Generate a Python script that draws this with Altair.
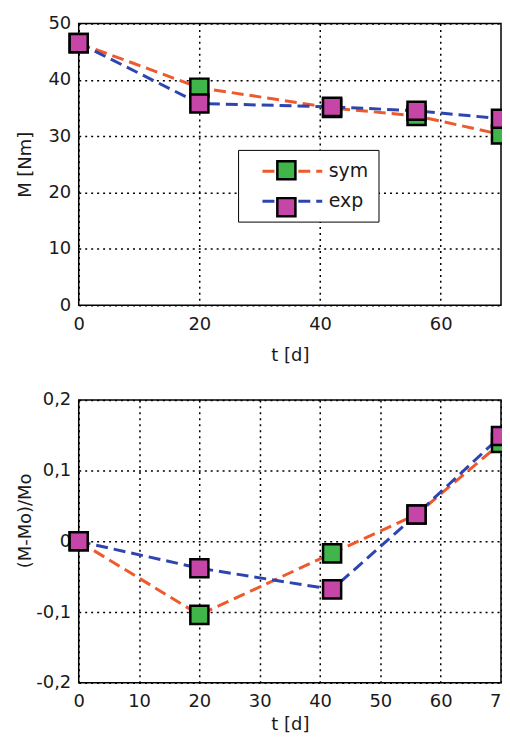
import altair as alt
import pandas as pd

t_days = [0, 20, 42, 56, 70]
series_names = ["sym", "exp"]
marker_names = ["m_sym", "m_exp"]
m_sym = [46.5, 38.6, 35.0, 33.6, 30.3]
m_exp = [46.5, 35.8, 35.2, 34.5, 33.1]
r_sym = [0.0, -0.104, -0.017, 0.038, 0.139]
r_exp = [0.0, -0.038, -0.068, 0.038, 0.149]

top_x_ticks = [0, 20, 40, 60]
bottom_x_ticks = [0, 10, 20, 30, 40, 50, 60, 70]
top_y_ticks = [0, 10, 20, 30, 40, 50]
bottom_y_ticks = [-0.2, -0.1, 0, 0.1, 0.2]

FONT = "DejaVu Sans"
TXT = "#1a1a1a"
line_colors = ["#ee5a2c", "#2e45b0"]
marker_colors = ["#3fb54a", "#c646a8"]


def long_df(sym, exp):
    rows = []
    for name, mname, vals in (("sym", "m_sym", sym), ("exp", "m_exp", exp)):
        for t, v in zip(t_days, vals):
            rows.append({"t": t, "v": v, "series": name, "marker": mname})
    return pd.DataFrame(rows)


def panel(df, ydomain, yvalues, ytitle, xvalues, lx, ly, height,
          label_expr=None, title_y=None, x_title_pad=13):
    xaxis = alt.Axis(values=xvalues, title="t [d]", labelFlush=False,
                     labelPadding=10, titlePadding=x_title_pad)
    yargs = dict(values=yvalues, title=ytitle, labelPadding=8, titleX=-44)
    if label_expr:
        yargs["labelExpr"] = label_expr
    if title_y is not None:
        yargs["titleY"] = title_y
    yaxis = alt.Axis(**yargs)
    x = alt.X("t:Q", scale=alt.Scale(domain=[0, 70], nice=False), axis=xaxis)
    y = alt.Y("v:Q", scale=alt.Scale(domain=ydomain, nice=False), axis=yaxis)

    lines = alt.Chart(df).mark_line(strokeWidth=3, strokeDash=[12, 6]).encode(
        x=x, y=y,
        color=alt.Color(
            "series:N",
            scale=alt.Scale(domain=series_names, range=line_colors),
            legend=alt.Legend(
                orient="none", legendX=lx, legendY=ly, title=None,
                symbolType="M0.3,0H6.3", symbolSize=400, symbolStrokeWidth=3,
                symbolDash=[12, 6], labelOffset=58,
                labelFontSize=19, labelFont=FONT, labelColor=TXT,
                padding=10, rowPadding=8, strokeColor="black",
                fillColor="white",
            ),
        ),
    )
    points = alt.Chart(df).mark_point(
        shape="square", filled=True, size=330, stroke="black",
        strokeWidth=2.5, opacity=1,
    ).encode(
        x=x, y=y,
        fill=alt.Fill(
            "marker:N",
            scale=alt.Scale(domain=marker_names, range=marker_colors),
            legend=alt.Legend(
                orient="none", legendX=lx, legendY=ly, title=None,
                symbolType="square", symbolSize=330, symbolStrokeColor="black",
                symbolStrokeWidth=2.5, symbolOffset=28, labelOpacity=0,
                labelFontSize=19, labelFont=FONT, padding=10, rowPadding=8,
            ),
        ),
    )
    return alt.layer(lines, points).properties(width=424, height=height)


top = panel(long_df(m_sym, m_exp), [0, 50], top_y_ticks, "M [Nm]",
            top_x_ticks, 160, 127, 283)
bottom = panel(
    long_df(r_sym, r_exp), [-0.2, 0.2], bottom_y_ticks, "(M-Mo)/Mo",
    bottom_x_ticks, 183, 30, 284,
    label_expr="datum.value == 0 ? '0' : (datum.value < 0 ? '-' : '') + replace(format(abs(datum.value), '.1f'), '.', ',')",
    title_y=121, x_title_pad=5,
)

chart = alt.vconcat(top, bottom, spacing=25).properties(
    padding={"top": 4, "left": 8, "right": -14, "bottom": 0}
).configure_view(
    stroke="black", strokeWidth=1.5
).configure_axis(
    domain=False, ticks=False, grid=True, gridColor="black",
    gridDash=[2, 4], gridWidth=1.5, gridOpacity=1,
    labelFont=FONT, labelFontSize=18, labelColor=TXT,
    titleFont=FONT, titleFontSize=18, titleFontWeight="normal", titleColor=TXT,
)

chart.save("out.html", embed_options={"renderer": "svg", "actions": False})
